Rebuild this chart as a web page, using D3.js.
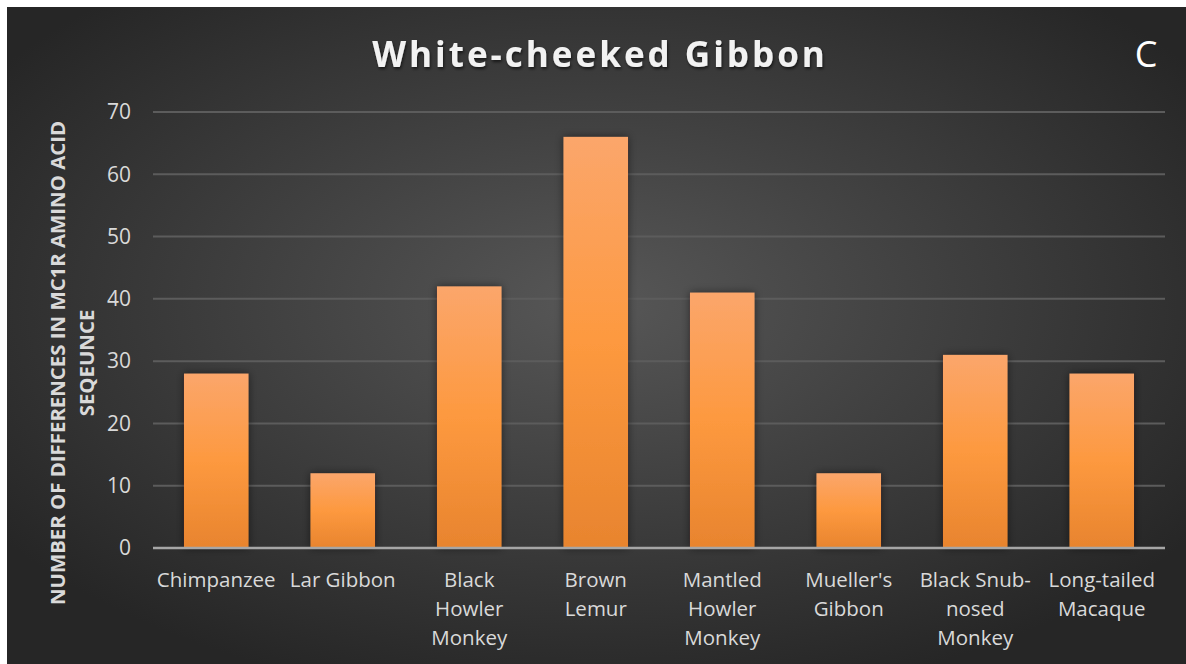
<html>
<head>
<style>
  body { margin: 0; background: #fff; }
  svg text { font-family: "Open Sans", sans-serif; }
</style>
</head>
<body>
<svg id="chart" width="1186" height="664"></svg>
<script src="https://d3js.org/d3.v7.min.js"></script>
<script>
// data
const categories = ["Chimpanzee", "Lar Gibbon", "Black Howler Monkey", "Brown Lemur",
  "Mantled Howler Monkey", "Mueller's Gibbon", "Black Snub-nosed Monkey", "Long-tailed Macaque"]
const labelLines = [["Chimpanzee"], ["Lar Gibbon"], ["Black", "Howler", "Monkey"], ["Brown", "Lemur"],
  ["Mantled", "Howler", "Monkey"], ["Mueller's", "Gibbon"], ["Black Snub-", "nosed", "Monkey"], ["Long-tailed", "Macaque"]]
const values = [28, 12, 42, 66, 41, 12, 31, 28]
const yTicks = [0, 10, 20, 30, 40, 50, 60, 70]

const svg = d3.select("#chart")
const defs = svg.append("defs")

let bg = defs.append("radialGradient").attr("id", "bg")
  .attr("cx", "50%").attr("cy", "45%").attr("r", "62%")
bg.append("stop").attr("offset", "0%").attr("stop-color", "#575757")
bg.append("stop").attr("offset", "100%").attr("stop-color", "#262626")

let barGrad = defs.append("linearGradient").attr("id", "bar")
  .attr("x1", 0).attr("y1", 0).attr("x2", 0).attr("y2", 1)
barGrad.append("stop").attr("offset", "0%").attr("stop-color", "#fba66b")
barGrad.append("stop").attr("offset", "50%").attr("stop-color", "#fd993f")
barGrad.append("stop").attr("offset", "100%").attr("stop-color", "#e8842e")

let shadow = defs.append("filter").attr("id", "shadow")
  .attr("x", "-30%").attr("y", "-30%").attr("width", "160%").attr("height", "160%")
shadow.append("feDropShadow").attr("dx", 0).attr("dy", 0).attr("stdDeviation", 4)
  .attr("flood-color", "#000").attr("flood-opacity", 0.5)

let tshadow = defs.append("filter").attr("id", "tshadow")
tshadow.append("feDropShadow").attr("dx", 1).attr("dy", 2).attr("stdDeviation", 1.5)
  .attr("flood-color", "#000").attr("flood-opacity", 0.6)

svg.append("rect").attr("x", 7).attr("y", 7).attr("width", 1179).attr("height", 657)
  .attr("fill", "url(#bg)")

// scales
const plotLeft = 153, plotRight = 1165, plotTop = 112, plotBottom = 548
let xScale = d3.scaleBand().domain(categories).range([plotLeft, plotRight]).paddingInner(0.49).paddingOuter(0.245)
let yScale = d3.scaleLinear().domain([0, 70]).range([plotBottom, plotTop])

// gridlines
svg.append("g").selectAll("line").data(yTicks.slice(1)).join("line")
  .attr("x1", plotLeft).attr("x2", plotRight)
  .attr("y1", d => yScale(d)).attr("y2", d => yScale(d))
  .attr("stroke", "#5c5c5c").attr("stroke-width", 2)

// y tick labels
svg.append("g").selectAll("text").data(yTicks).join("text")
  .attr("x", 131).attr("y", d => yScale(d)).attr("dy", "0.35em")
  .attr("text-anchor", "end").attr("fill", "#d9d9d9").attr("font-size", 21)
  .text(d => d)

// bars
svg.append("g").selectAll("rect").data(values).join("rect")
  .attr("x", (d, i) => xScale(categories[i]))
  .attr("width", xScale.bandwidth())
  .attr("y", d => yScale(d))
  .attr("height", d => yScale(0) - yScale(d))
  .attr("fill", "url(#bar)")
  .attr("filter", "url(#shadow)")

// axis line
svg.append("line").attr("x1", plotLeft).attr("x2", plotRight)
  .attr("y1", yScale(0)).attr("y2", yScale(0))
  .attr("stroke", "#a6a6a6").attr("stroke-width", 2.5)

// category labels
let cat = svg.append("g").selectAll("text").data(labelLines).join("text")
  .attr("x", (d, i) => xScale(categories[i]) + xScale.bandwidth() / 2)
  .attr("y", 587).attr("text-anchor", "middle").attr("fill", "#d9d9d9").attr("font-size", 20.5)
cat.selectAll("tspan").data(d => d).join("tspan")
  .attr("x", function() { return this.parentNode.getAttribute("x") })
  .attr("dy", (d, i) => i === 0 ? 0 : 29)
  .text(d => d)

// y axis title
let yt = svg.append("text").attr("transform", "translate(65,363) rotate(-90)")
  .attr("text-anchor", "middle").attr("fill", "#d9d9d9").attr("font-size", 20.4).attr("font-weight", "bold")
yt.append("tspan").attr("x", 0).attr("y", 0).text("NUMBER OF DIFFERENCES IN MC1R AMINO ACID")
yt.append("tspan").attr("x", 0).attr("y", 29).text("SEQEUNCE")

// title
svg.append("text").attr("x", 600).attr("y", 67).attr("text-anchor", "middle")
  .attr("fill", "#f2f2f2").attr("font-size", 35).attr("font-weight", "bold")
  .attr("letter-spacing", 3).attr("filter", "url(#tshadow)")
  .text("White-cheeked Gibbon")

svg.append("text").attr("x", 1146).attr("y", 67).attr("text-anchor", "middle")
  .attr("fill", "#ffffff").attr("font-size", 36)
  .text("C")
</script>
</body>
</html>
